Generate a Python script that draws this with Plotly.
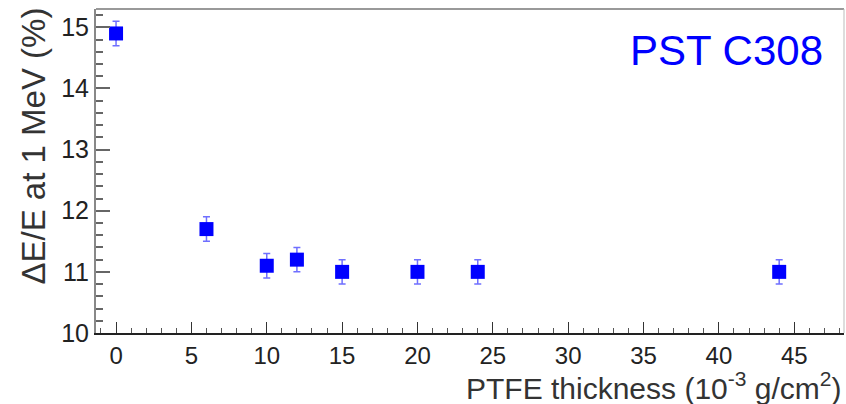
import plotly.graph_objects as go

thickness = [0, 6, 10, 12, 15, 20, 24, 44]
resolution = [14.9, 11.7, 11.1, 11.2, 11.0, 11.0, 11.0, 11.0]
res_err = [0.2, 0.2, 0.2, 0.2, 0.2, 0.2, 0.2, 0.2]
x_ticks = [0, 5, 10, 15, 20, 25, 30, 35, 40, 45]
y_ticks = [10, 11, 12, 13, 14, 15]

FONT = "Liberation Sans, Arial, Helvetica, sans-serif"

fig = go.Figure()
fig.add_trace(go.Scatter(
    x=thickness, y=resolution, mode="markers",
    marker=dict(symbol="square", size=14, color="#0000ff", line=dict(width=0)),
    error_y=dict(type="data", array=res_err, visible=True, color="#6f6fff",
                 thickness=1.5, width=3.5),
    showlegend=False,
))

fig.update_layout(
    width=846, height=404,
    margin=dict(l=96, r=2, t=9, b=71),
    paper_bgcolor="white", plot_bgcolor="white",
    font=dict(family=FONT, color="#222222"),
    xaxis=dict(
        range=[-1.33, 48.3], tickvals=x_ticks, ticks="inside", ticklen=11,
        tickcolor="#333333", tickwidth=1.2,
        minor=dict(dtick=1, ticks="inside", ticklen=5, tickcolor="#555555", tickwidth=1),
        showgrid=False, zeroline=False, showline=True, linecolor="#222222", linewidth=2,
        tickfont=dict(size=24, family=FONT, color="#222222"),
    ),
    yaxis=dict(
        range=[10, 15.3], tickvals=y_ticks, ticks="inside", ticklen=14,
        tickcolor="#666666", tickwidth=1.5,
        minor=dict(dtick=0.2, ticks="inside", ticklen=7, tickcolor="#666666", tickwidth=1.5),
        showgrid=False, zeroline=False, showline=True, linecolor="#888888", linewidth=2,
        tickfont=dict(size=25, family=FONT, color="#222222"),
    ),
    shapes=[
        dict(type="line", xref="paper", yref="paper", x0=0, x1=1, y0=1, y1=1,
             line=dict(color="#999999", width=2)),
        dict(type="line", xref="paper", yref="paper", x0=1, x1=1, y0=0, y1=1,
             line=dict(color="#bbbbbb", width=1)),
    ],
    annotations=[
        dict(text="PTFE thickness (10<sup>-3</sup> g/cm<sup>2</sup>)", xref="paper", yref="paper",
             x=1.0, y=-0.163, xanchor="right", yanchor="middle", showarrow=False,
             font=dict(size=30, family=FONT, color="#333333")),
        dict(text="ΔE/E at 1 MeV (%)", xref="paper", yref="paper",
             x=-0.084, y=0.576, xanchor="center", yanchor="middle", textangle=-90,
             showarrow=False, font=dict(size=33, family=FONT, color="#333333")),
        dict(text="PST C308", xref="paper", yref="paper",
             x=0.975, y=0.873, xanchor="right", yanchor="middle", showarrow=False,
             font=dict(size=42, family=FONT, color="#0000ff")),
    ],
)

fig.write_html("out.html")
